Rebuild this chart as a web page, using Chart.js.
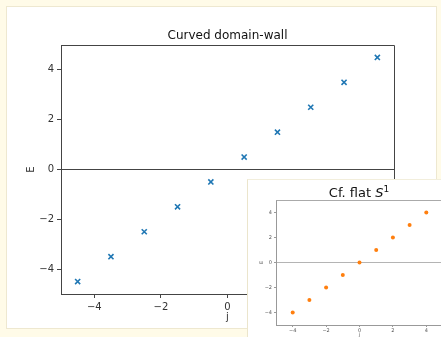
<!DOCTYPE html>
<html>
<head>
<meta charset="utf-8">
<script src="https://cdn.jsdelivr.net/npm/chart.js@4"></script>
<style>
  html, body { margin: 0; padding: 0; }
  body { width: 441px; height: 337px; background: #fffbe8; position: relative; overflow: hidden; }
  #panel { position: absolute; left: 6px; top: 6px; width: 429px; height: 321px; background: #fff; border: 1px solid #eee8d0; }
  #mainWrap { position: absolute; left: 0; top: 0; width: 441px; height: 337px; }
  #insetWrap { position: absolute; left: 247px; top: 179px; width: 194px; height: 158px; background: #fff; overflow: hidden;
               border-left: 1px solid #ebe5cc; border-top: 1px solid #f2eedc; box-sizing: border-box; }
  #insetCanvas { position: absolute; left: -1px; top: -1px; }
</style>
</head>
<body>
<div id="panel"></div>
<div id="mainWrap"><canvas id="mainCanvas" width="441" height="337"></canvas></div>
<div id="insetWrap"><canvas id="insetCanvas" width="200" height="159"></canvas></div>
<script>
// Curved domain-wall spectrum: energy E against j (half-integer)
const wallJ = [-4.5, -3.5, -2.5, -1.5, -0.5, 0.5, 1.5, 2.5, 3.5, 4.5];
const wallE = [-4.5, -3.5, -2.5, -1.5, -0.5, 0.5, 1.5, 2.5, 3.5, 4.5];

// Flat S^1 spectrum for comparison (integer j)
const flatJ = [-4, -3, -2, -1, 0, 1, 2, 3, 4];
const flatE = [-4, -3, -2, -1, 0, 1, 2, 3, 4];

const wallTicks = [-4, -2, 0, 2, 4];
const flatTicks = [-4, -2, 0, 2, 4];

const mainTitle = 'Curved domain-wall';
const FONT = "'DejaVu Sans', sans-serif";

const minusFmt = v => (v < 0 ? '\u2212' + Math.abs(v) : String(v));
const pts = (xs, ys) => xs.map((x, i) => ({ x: x, y: ys[i] }));
const setTicks = list => scale => { scale.ticks = list.map(v => ({ value: v })); };

// Draws the top/right spines and an optional title over the plot area
function framePlugin(color, title) {
  return {
    id: 'frame',
    afterDraw(chart) {
      const a = chart.chartArea, c = chart.ctx;
      const l = Math.round(a.left) + 0.5, t = Math.round(a.top) + 0.5;
      const r = Math.round(a.right) + 0.5, b = Math.round(a.bottom) + 0.5;
      c.save();
      c.strokeStyle = color;
      c.lineWidth = 1;
      c.beginPath();
      c.moveTo(l, t); c.lineTo(r, t); c.lineTo(r, b);
      c.stroke();
      if (title) title(c, a);
      c.restore();
    }
  };
}

new Chart(document.getElementById('mainCanvas'), {
  type: 'scatter',
  data: {
    datasets: [{
      data: pts(wallJ, wallE),
      pointStyle: 'crossRot',
      radius: 3.6,
      borderWidth: 1.6,
      borderColor: '#1f77b4',
      backgroundColor: '#1f77b4'
    }]
  },
  options: {
    responsive: false, animation: false, devicePixelRatio: 1,
    layout: { padding: { left: 20, top: 45, right: 47, bottom: 0 } },
    plugins: { legend: { display: false }, tooltip: { enabled: false } },
    scales: {
      x: {
        type: 'linear', min: -5, max: 5,
        afterBuildTicks: setTicks(wallTicks),
        afterFit: s => { s.height = 43; },
        grid: { drawOnChartArea: false, drawTicks: true, tickLength: 4, tickColor: '#444' },
        border: { display: true, color: '#444', width: 1 },
        ticks: { callback: minusFmt, font: { family: FONT, size: 10 }, color: '#333', padding: 3, maxRotation: 0, autoSkip: false },
        title: { display: true, text: 'j', font: { family: FONT, size: 10 }, color: '#333', padding: { top: 0, bottom: 14 } }
      },
      y: {
        type: 'linear', min: -5, max: 5,
        afterBuildTicks: setTicks(wallTicks),
        afterFit: s => { s.width = 41; },
        grid: {
          drawOnChartArea: true, drawTicks: true, tickLength: 4, tickColor: '#444', lineWidth: 1,
          color: ctx => (ctx.tick && ctx.tick.value === 0 ? '#444' : 'rgba(0,0,0,0)')
        },
        border: { display: true, color: '#444', width: 1 },
        ticks: { callback: minusFmt, font: { family: FONT, size: 10 }, color: '#333', padding: 3, autoSkip: false },
        title: { display: true, text: 'E', font: { family: FONT, size: 10 }, color: '#333', padding: { top: 5, bottom: 0 } }
      }
    }
  },
  plugins: [framePlugin('#444', (c, a) => {
    c.fillStyle = '#111';
    c.font = '12px ' + FONT;
    c.textAlign = 'center';
    c.textBaseline = 'alphabetic';
    c.fillText(mainTitle, (a.left + a.right) / 2, a.top - 6);
  })]
});

new Chart(document.getElementById('insetCanvas'), {
  type: 'scatter',
  data: {
    datasets: [{
      data: pts(flatJ, flatE),
      pointStyle: 'circle',
      radius: 2,
      borderWidth: 0,
      backgroundColor: '#ff7f0e',
      borderColor: '#ff7f0e'
    }]
  },
  options: {
    responsive: false, animation: false, devicePixelRatio: 1,
    layout: { padding: { left: 0, top: 21, right: 4, bottom: 0 } },
    plugins: { legend: { display: false }, tooltip: { enabled: false } },
    scales: {
      x: {
        type: 'linear', min: -5, max: 5,
        afterBuildTicks: setTicks(flatTicks),
        afterFit: s => { s.height = 13; },
        grid: { drawOnChartArea: false, drawTicks: true, tickLength: 2, tickColor: '#999' },
        border: { display: true, color: '#999', width: 1 },
        ticks: { callback: minusFmt, font: { family: FONT, size: 5 }, color: '#555', padding: 1, maxRotation: 0, autoSkip: false },
        title: { display: true, text: 'j', font: { family: FONT, size: 5 }, color: '#555', padding: { top: 0, bottom: 0 } }
      },
      y: {
        type: 'linear', min: -5, max: 5,
        afterBuildTicks: setTicks(flatTicks),
        afterFit: s => { s.width = 29; },
        grid: {
          drawOnChartArea: true, drawTicks: true, tickLength: 2, tickColor: '#999', lineWidth: 1,
          color: ctx => (ctx.tick && ctx.tick.value === 0 ? '#b4b4b4' : 'rgba(0,0,0,0)')
        },
        border: { display: true, color: '#999', width: 1 },
        ticks: { callback: minusFmt, font: { family: FONT, size: 5 }, color: '#555', padding: 2, autoSkip: false },
        title: { display: true, text: 'E', font: { family: FONT, size: 5 }, color: '#555', padding: { top: 12, bottom: 0 } }
      }
    }
  },
  plugins: [framePlugin('#aaa', (c, a) => {
    // "Cf. flat S¹" with italic S and superscript 1
    const size = 13;
    const parts = [
      { t: 'Cf. flat ', f: size + 'px ' + FONT, dy: 0 },
      { t: 'S', f: 'italic ' + size + 'px ' + FONT, dy: 0 },
      { t: '1', f: '9px ' + FONT, dy: -5 }
    ];
    let w = 0;
    parts.forEach(p => { c.font = p.f; p.w = c.measureText(p.t).width; w += p.w; });
    let x = 112 - w / 2;
    const base = a.top - 3;
    c.fillStyle = '#111';
    c.textAlign = 'left';
    c.textBaseline = 'alphabetic';
    parts.forEach(p => { c.font = p.f; c.fillText(p.t, x, base + p.dy); x += p.w; });
  })]
});
</script>
</body>
</html>
